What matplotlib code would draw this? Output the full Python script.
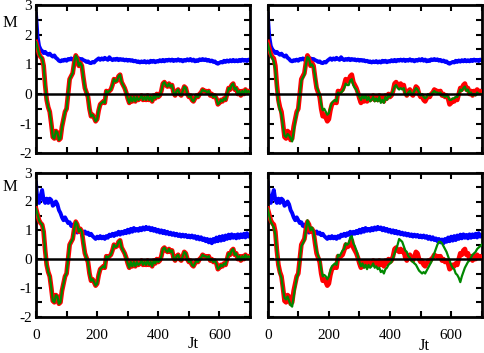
import numpy as np
import matplotlib
matplotlib.use("Agg")
import matplotlib.pyplot as plt
from matplotlib.ticker import MultipleLocator, FuncFormatter

plt.rcParams['font.family'] = ['Liberation Serif', 'DejaVu Serif']

# time grid (Jt), step 5
jt = list(range(0, 701, 5))

red = [1.75, 1.55, 1.35, 1.25, 1.2, 0.95, 0.3, -0.2, -0.45, -0.6,
       -1.0, -1.45, -1.5, -1.25, -1.3, -1.55, -1.5, -1.1, -0.85, -0.6,
       -0.5, 0.0, 0.5, 0.6, 0.7, 1.05, 1.3, 1.2, 0.95, 1.05,
       0.95, 0.55, 0.2, 0.05, -0.1, -0.5, -0.75, -0.7, -0.8, -0.92,
       -0.85, -0.55, -0.35, -0.3, -0.25, -0.3, 0.1, 0.05, 0.1, 0.15,
       0.3, 0.5, 0.42, 0.45, 0.6, 0.65, 0.4, 0.3, 0.2, 0.05,
       -0.15, -0.3, -0.1, -0.25, -0.1, -0.25, -0.1, -0.2, -0.15, -0.05,
       -0.2, -0.1, -0.2, -0.05, -0.2, -0.1, -0.25, -0.05, -0.15, 0.0,
       -0.1, -0.05, 0.1, 0.35, 0.4, 0.3, 0.25, 0.35, 0.25, 0.3,
       0.05, -0.05, 0.1, 0.15, 0.0, -0.05, 0.1, 0.25, 0.2, 0.0,
       -0.1, -0.05, -0.2, -0.25, -0.15, -0.05, -0.1, 0.0, 0.05, 0.15,
       0.1, 0.1, 0.05, 0.1, -0.05, 0.0, -0.1, -0.05, -0.15, -0.35,
       -0.3, -0.2, -0.25, -0.15, -0.2, 0.0, 0.2, 0.15, 0.3, 0.35,
       0.15, 0.2, 0.0, 0.1, -0.05, 0.1, 0.0, 0.15, 0.05, 0.1,
       0.05]

green_b = [1.7, 1.5, 1.3, 1.2, 1.1, 0.8, 0.2, -0.3, -0.55, -0.7,
           -1.1, -1.4, -1.45, -1.35, -1.4, -1.5, -1.6, -1.25, -0.9, -0.65,
           -0.5, -0.05, 0.45, 0.55, 0.65, 1.0, 1.25, 1.2, 0.95, 1.0,
           0.9, 0.6, 0.25, 0.1, 0.0, -0.35, -0.55, -0.5, -0.6, -0.7,
           -0.65, -0.45, -0.3, -0.25, -0.2, -0.25, 0.05, 0.0, 0.05, 0.1,
           0.2, 0.35, 0.3, 0.3, 0.45, 0.5, 0.3, 0.2, 0.15, 0.0,
           -0.1, -0.2, -0.05, -0.15, -0.05, -0.2, -0.1, -0.25, -0.2, -0.1,
           -0.25, -0.15, -0.25, -0.1, -0.3, -0.2, -0.3, -0.1, -0.2, -0.05,
           -0.1, 0.0, 0.1, 0.25, 0.3, 0.2, 0.15, 0.2, 0.15, 0.2,
           0.0, -0.05, 0.05, 0.1, 0.0, 0.0, 0.1, 0.2, 0.15, 0.05,
           -0.05, 0.0, -0.1, -0.15, -0.1, 0.0, -0.05, 0.0, 0.05, 0.1,
           0.05, 0.05, 0.0, 0.05, -0.05, -0.05, -0.1, -0.05, -0.1, -0.2,
           -0.2, -0.15, -0.15, -0.1, -0.1, 0.0, 0.15, 0.1, 0.2, 0.25,
           0.1, 0.15, 0.0, 0.05, -0.05, 0.0, -0.05, 0.05, 0.0, 0.0,
           0.0]

green_d = [1.75, 1.5, 1.3, 1.2, 1.1, 0.85, 0.3, -0.2, -0.5, -0.65,
           -1.05, -1.35, -1.4, -1.3, -1.45, -1.6, -1.65, -1.3, -0.95, -0.65,
           -0.5, -0.05, 0.45, 0.55, 0.65, 1.0, 1.35, 1.2, 1.0, 1.1,
           0.95, 0.6, 0.3, 0.1, 0.0, -0.35, -0.6, -0.55, -0.6, -0.7,
           -0.6, -0.4, -0.25, -0.2, -0.15, -0.2, 0.15, 0.1, 0.2, 0.3,
           0.35, 0.55, 0.5, 0.55, 0.75, 0.8, 0.55, 0.45, 0.3, 0.1,
           -0.1, -0.25, -0.15, -0.3, -0.2, -0.35, -0.2, -0.3, -0.25, -0.15,
           -0.3, -0.25, -0.35, -0.3, -0.45, -0.4, -0.5, -0.35, -0.3, -0.2,
           -0.15, -0.1, 0.05, 0.2, 0.35, 0.5, 0.7, 0.65, 0.6, 0.45,
           0.3, 0.25, 0.1, 0.05, -0.05, -0.1, -0.15, -0.2, -0.3, -0.4,
           -0.45, -0.5, -0.45, -0.5, -0.4, -0.3, -0.2, -0.1, 0.05, 0.2,
           0.35, 0.5, 0.6, 0.6, 0.55, 0.45, 0.35, 0.25, 0.1, -0.05,
           -0.2, -0.3, -0.35, -0.5, -0.55, -0.65, -0.8, -0.6, -0.45, -0.3,
           -0.2, -0.1, -0.05, 0.05, 0.15, 0.2, 0.25, 0.35, 0.4, 0.45,
           0.5]

blue_top = [2.7, 1.95, 1.62, 1.5, 1.45, 1.38, 1.42, 1.36, 1.32, 1.36,
            1.3, 1.26, 1.3, 1.22, 1.18, 1.12, 1.1, 1.14, 1.12, 1.16,
            1.12, 1.18, 1.16, 1.2, 1.15, 1.2, 1.22, 1.16, 1.2, 1.15,
            1.18, 1.14, 1.12, 1.08, 1.1, 1.05, 1.04, 1.08, 1.06, 1.12,
            1.16, 1.2, 1.15, 1.2, 1.16, 1.22, 1.18, 1.15, 1.24, 1.18,
            1.14, 1.18, 1.15, 1.19, 1.14, 1.18, 1.15, 1.17, 1.13, 1.16,
            1.12, 1.15, 1.12, 1.14, 1.1, 1.12, 1.08, 1.1, 1.06, 1.1,
            1.07, 1.11, 1.06, 1.1, 1.06, 1.12, 1.08, 1.12, 1.07, 1.11,
            1.09, 1.14, 1.1, 1.15, 1.1, 1.15, 1.12, 1.16, 1.12, 1.16,
            1.11, 1.15, 1.12, 1.17, 1.12, 1.15, 1.1, 1.15, 1.12, 1.17,
            1.13, 1.18, 1.12, 1.16, 1.1, 1.14, 1.11, 1.17, 1.14, 1.18,
            1.14, 1.17, 1.12, 1.15, 1.1, 1.13, 1.08, 1.1, 1.04, 1.02,
            1.05, 1.08, 1.06, 1.12, 1.08, 1.13, 1.09, 1.14, 1.1, 1.15,
            1.1, 1.14, 1.1, 1.15, 1.11, 1.16, 1.12, 1.15, 1.11, 1.16,
            1.13]

blue_bot = [2.65, 2.0, 1.95, 2.2, 2.4, 2.05, 1.95, 2.1, 1.95, 2.1,
            2.05, 1.85, 1.9, 2.0, 1.9, 1.7, 1.6, 1.45, 1.35, 1.45,
            1.35, 1.25, 1.28, 1.15, 1.2, 1.05, 1.0, 0.92, 1.0, 0.95,
            0.98, 0.9, 0.96, 0.88, 0.92, 0.83, 0.88, 0.8, 0.75, 0.7,
            0.78, 0.72, 0.8, 0.72, 0.78, 0.7, 0.8, 0.74, 0.85, 0.8,
            0.88, 0.8, 0.9, 0.84, 0.95, 0.85, 0.95, 0.88, 0.98, 0.9,
            1.02, 0.92, 1.05, 0.95, 1.08, 0.98, 1.05, 0.98, 1.08, 1.0,
            1.1, 1.02, 1.12, 1.04, 1.1, 1.0, 1.08, 0.98, 1.05, 0.95,
            1.02, 0.92, 1.0, 0.9, 0.98, 0.88, 0.95, 0.86, 0.92, 0.84,
            0.9, 0.82, 0.88, 0.8, 0.86, 0.78, 0.85, 0.78, 0.84, 0.76,
            0.82, 0.75, 0.82, 0.74, 0.8, 0.7, 0.78, 0.68, 0.76, 0.66,
            0.72, 0.62, 0.7, 0.58, 0.68, 0.55, 0.7, 0.6, 0.75, 0.62,
            0.78, 0.64, 0.8, 0.66, 0.82, 0.7, 0.85, 0.72, 0.86, 0.74,
            0.84, 0.72, 0.86, 0.74, 0.86, 0.76, 0.88, 0.75, 0.9, 0.78,
            0.82]

x_ticklabels = ["0", "200", "400", "600"]
y_ticklabels = ["-2", "-1", "0", "1", "2", "3"]

W, H = 485, 353
fig = plt.figure(figsize=(W / 100, H / 100), dpi=100)

def px_axes(l, r, t, b):
    return fig.add_axes([l / W, 1 - b / H, (r - l) / W, (b - t) / H])

panels = [
    (px_axes(36, 250, 5, 153.3), blue_top, red, True, False),
    (px_axes(267.7, 481.7, 5, 153.3), blue_top, green_b, False, False),
    (px_axes(36, 250, 172.7, 316.7), blue_bot, red, True, True),
    (px_axes(267.7, 481.7, 172.7, 316.7), blue_bot, green_d, False, True),
]

for ax, blue, green, ylab, xlab in panels:
    ax.plot(jt, blue, color='#0000ff', lw=2.8, zorder=2)
    ax.plot(jt, red, color='#ff0000', lw=3.4, zorder=3)
    ax.plot(jt, green, color='#008800', lw=1.6, zorder=4)
    ax.axhline(0, color='black', lw=1.8, zorder=5)
    ax.set_xlim(0, 700)
    ax.set_ylim(-2, 3)
    ax.xaxis.set_major_locator(MultipleLocator(100))
    ax.yaxis.set_major_locator(MultipleLocator(0.5))
    ax.tick_params(direction='in', top=True, right=True, length=4.5,
                   width=1.5, labelsize=11, pad=3)
    for s in ax.spines.values():
        s.set_linewidth(2.0)
    if xlab:
        ax.xaxis.set_major_formatter(FuncFormatter(
            lambda v, p: x_ticklabels[int(round(v)) // 200]
            if int(round(v)) % 200 == 0 and 0 <= int(round(v)) // 200 < len(x_ticklabels) else ""))
        ax.tick_params(axis='x', pad=9)
    else:
        ax.set_xticklabels([])
    if ylab:
        ax.yaxis.set_major_formatter(FuncFormatter(
            lambda v, p: y_ticklabels[int(round(v)) + 2]
            if abs(v - round(v)) < 1e-6 and -2 <= round(v) <= 3 else ""))
    else:
        ax.set_yticklabels([])

fig.text(10 / W, 1 - 23 / H, "M", fontsize=12, ha='center', va='center')
fig.text(10 / W, 1 - 187 / H, "M", fontsize=12, ha='center', va='center')
fig.text(193 / W, 1 - 344 / H, "Jt", fontsize=12, ha='center', va='center')
fig.text(424.5 / W, 1 - 346 / H, "Jt", fontsize=12, ha='center', va='center')

fig.savefig("out.png", dpi=100)
